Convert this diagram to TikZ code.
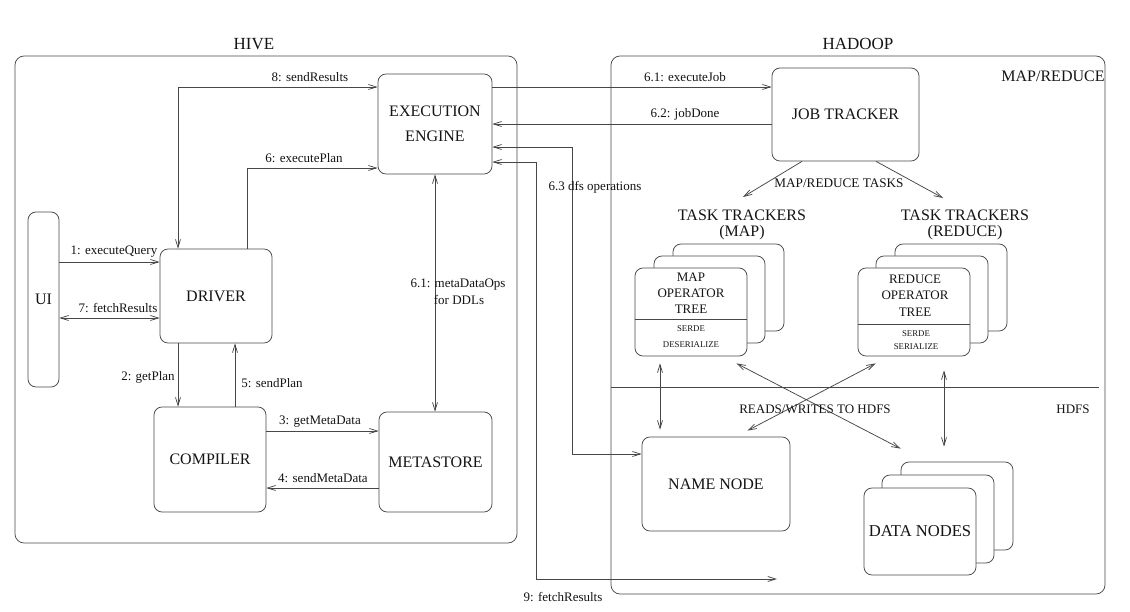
\documentclass[tikz,border=0pt]{standalone}
\usepackage{fontspec}
\setmainfont{Liberation Serif}
\usetikzlibrary{arrows.meta}
\begin{document}
\begin{tikzpicture}[x=1pt,y=-1pt,
  cline/.style={draw=black!72, line width=0.75pt},
  arr/.style={cline, -{Straight Barb[length=8pt,width=5pt]}},
  darr/.style={cline, {Straight Barb[length=8pt,width=5pt]}-{Straight Barb[length=8pt,width=5pt]}},
  blk/.style={cline, rounded corners=8pt, fill=white, inner sep=0pt, align=center,
              font=\fontsize{16}{25}\selectfont, text=black!92},
  grp/.style={cline, rounded corners=9pt, inner sep=0pt},
  lbl/.style={font=\fontsize{13}{15}\selectfont, inner sep=0pt, text=black!92},
  ttl/.style={font=\fontsize{17}{20}\selectfont, inner sep=0pt, text=black!92},
  ttt/.style={font=\fontsize{16}{16}\selectfont, inner sep=0pt, align=center, text=black!92},
  optxt/.style={font=\fontsize{13}{16}\selectfont, inner sep=0pt, align=center, text=black!92},
  sdtxt/.style={font=\fontsize{8.8}{16}\selectfont, inner sep=0pt, align=center, text=black!92},
]
\fill[white] (0,0) rectangle (1130,612);
\useasboundingbox (0,0) rectangle (1130,612);

% groups
\node[grp, minimum width=502pt, minimum height=487pt] (hive) at (266,299.5) {};
\node[grp, minimum width=494pt, minimum height=538pt] (hadoop) at (858,325) {};
\node[ttl] (hivet) at (254,44) {HIVE};
\node[ttl] (hadoopt) at (858,44) {HADOOP};
\node[ttl, font=\fontsize{16}{20}\selectfont] (mrt) at (1053,76) {MAP/REDUCE};
\draw[cline] ([yshift=-62pt]hadoop.west) -- ([yshift=-62pt,xshift=-6pt]hadoop.east);
\node[lbl] (hdfst) at (1073,409) {HDFS};

% hive boxes
\node[blk, minimum width=114pt, minimum height=100pt] (ee) at (435,124) {EXECUTION\\ENGINE};
\node[blk, minimum width=31pt, minimum height=175pt] (ui) at (43.5,299.5) {UI};
\node[blk, minimum width=112pt, minimum height=94pt] (driver) at (216,296) {DRIVER};
\node[blk, minimum width=112pt, minimum height=105pt] (compiler) at (210,459.5) {COMPILER};
\node[blk, minimum width=113pt, minimum height=100pt] (meta) at (435.5,462) {METASTORE};

% hadoop boxes
\node[blk, minimum width=147pt, minimum height=93pt] (jt) at (845.5,114.5) {JOB TRACKER};
\node[blk, minimum width=148pt, minimum height=94pt] (nn) at (716,484) {NAME NODE};

\node[blk, minimum width=112pt, minimum height=88pt] (dnb) at (957,506) {};
\node[blk, minimum width=112pt, minimum height=88pt] (dnm) at (938,519) {};
\node[blk, minimum width=112pt, minimum height=87pt, font=\fontsize{16.6}{20}\selectfont] (dnf) at (920,531.5) {DATA NODES};

\node[blk, minimum width=111pt, minimum height=87pt] (mapb) at (728.5,287.5) {};
\node[blk, minimum width=111pt, minimum height=87pt] (mapm) at (709.5,299.5) {};
\node[blk, minimum width=112pt, minimum height=88pt] (mapf) at (691,312) {};
\draw[cline] ([yshift=-7pt]mapf.west) -- ([yshift=-7pt]mapf.east);
\node[optxt] (mapop) at (691,293) {MAP\\OPERATOR\\TREE};
\node[sdtxt] (mapsd) at (691,337) {SERDE\\DESERIALIZE};

\node[blk, minimum width=112pt, minimum height=87pt] (redb) at (951,287.5) {};
\node[blk, minimum width=112pt, minimum height=87pt] (redm) at (932,299.5) {};
\node[blk, minimum width=112pt, minimum height=88pt] (redf) at (914,312) {};
\draw[cline] ([yshift=-12pt]redf.west) -- ([yshift=-12pt]redf.east);
\node[optxt, font=\fontsize{13}{16.5}\selectfont] (redop) at (915,295.5) {REDUCE\\OPERATOR\\TREE};
\node[sdtxt, font=\fontsize{8.8}{13}\selectfont] (redsd) at (916,340.5) {SERDE\\SERIALIZE};

\node[ttt] (tmap) at (742,225) {TASK TRACKERS\\(MAP)};
\node[ttt] (tred) at (965,225) {TASK TRACKERS\\(REDUCE)};

% hive connectors
\draw[darr] ([yshift=37pt]ee.west) -| ([xshift=-38pt]driver.north);
\node[lbl] (l8) at (310,77) {8: sendResults};
\draw[arr] ([xshift=31pt]driver.north) |- ([yshift=-44pt]ee.west);
\node[lbl] (l6) at (304,158) {6: executePlan};
\draw[arr] ([yshift=37.5pt]ui.east) -- ([yshift=34pt]driver.west);
\node[lbl] (l1) at (114,252) {1: executeQuery};
\draw[darr] ([yshift=-18.5pt]ui.east) -- ([yshift=-22pt]driver.west);
\node[lbl] (l7) at (118,308) {7: fetchResults};
\draw[arr] ([xshift=-38pt]driver.south) -- ([xshift=-32pt]compiler.north);
\node[lbl] (l2) at (148,377) {2: getPlan};
\draw[arr] ([xshift=25pt]compiler.north) -- ([xshift=19pt]driver.south);
\node[lbl] (l5) at (272,383) {5: sendPlan};
\draw[arr] ([yshift=28.5pt]compiler.east) -- ([yshift=31pt]meta.west);
\node[lbl] (l3) at (320,422) {3: getMetaData};
\draw[arr] ([yshift=-26pt]meta.west) -- ([yshift=-28.5pt]compiler.east);
\node[lbl] (l4) at (323,478) {4: sendMetaData};
\draw[darr] (ee.south) -- (ee.south |- meta.north);
\node[lbl] (l61a) at (458,285) {6.1: metaDataOps};
\node[lbl] (l61b) at (459,300) {for DDLs};

% hive-hadoop connectors
\draw[arr] ([yshift=37pt]ee.east) -- ([yshift=27.5pt]jt.west);
\node[lbl] (l61) at (685,77) {6.1: executeJob};
\draw[arr] ([yshift=-9.5pt]jt.west) -- (ee.east);
\node[lbl] (l62) at (685,114) {6.2: jobDone};
\draw[darr] ([yshift=-23pt]ee.east) -| ([xshift=-69pt,yshift=30pt]nn.west) -- ([yshift=30pt]nn.west);
\node[lbl] (l63) at (595,187) {6.3 dfs operations};
\coordinate (f9) at (777,579);
\draw[darr] ([yshift=-38pt]ee.east) -| ([xshift=-241pt]f9) -- (f9);
\node[lbl] (l9) at (563,597) {9: fetchResults};

% hadoop connectors
\coordinate (tmapin) at (743,197);
\coordinate (tredin) at (943,198);
\draw[arr] ([xshift=-43.5pt]jt.south) -- (tmapin);
\draw[arr] ([xshift=30.5pt]jt.south) -- (tredin);
\node[lbl, font=\fontsize{13.2}{15}\selectfont] (lmr) at (839,183) {MAP/REDUCE TASKS};

\draw[darr, shorten <=7pt, shorten >=7pt] ([xshift=-31pt]mapf.south) -- ([xshift=-56pt]nn.north);
\draw[darr, shorten <=14pt, shorten >=15pt] ([xshift=30pt]redf.south) -- ([xshift=30pt]redf.south |- dnb.north);
\draw[darr] ([xshift=-11pt,yshift=-7pt]mapf.south east) -- ([xshift=37pt,yshift=39pt]dnf.north west);
\draw[darr] ([xshift=18pt,yshift=-7pt]redf.south west) -- ([xshift=-43pt,yshift=6pt]nn.north east);
\node[lbl] (lrw) at (815,409) {READS/WRITES TO HDFS};
\end{tikzpicture}
\end{document}
